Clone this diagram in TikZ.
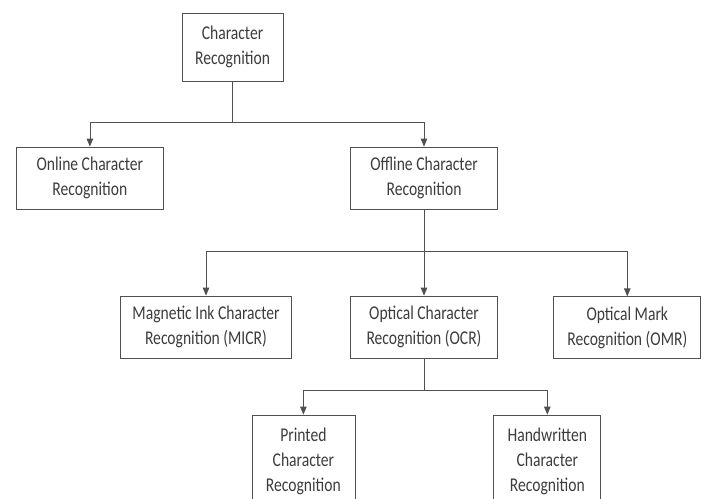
\documentclass[tikz,border=0pt]{standalone}
\usepackage{fontspec}
\usepackage{tikz}
\usetikzlibrary{arrows.meta}
\newfontfamily\boxfont[FakeStretch=0.8]{Carlito}
\definecolor{linegray}{HTML}{505050}
\definecolor{textgray}{HTML}{3C3C3C}

\begin{document}
\begin{tikzpicture}[x=1pt, y=-1pt, >={Triangle[length=8pt, width=6.5pt]}, block/.style = {draw=linegray, line width=0.8pt, text=textgray, align=center, inner sep=0pt, minimum width=147pt, minimum height=62pt, font=\boxfont\fontsize{19.5}{25}\selectfont}, link/.style = {draw=linegray, line width=0.8pt}]
    \useasboundingbox (0,0) rectangle (708,498);
    \clip (0,0) rectangle (708,498);
    \node[block, minimum width=101pt, minimum height=68pt] (1) at (232.5,47) {Character\\Recognition};
    \node[block] (2) at (89.9,178) {Online Character\\Recognition};
    \node[block] (3) at (424,178) {Offline Character\\Recognition};
    \node[block, minimum width=171pt] (4) at (206,327) {Magnetic Ink Character\\Recognition (MICR)};
    \node[block] (5) at (424,327) {Optical Character\\Recognition (OCR)};
    \node[block] (6) at (627.3,327.8) {Optical Mark\\Recognition (OMR)};
    \node[block, minimum width=103pt, minimum height=92pt] (7) at (303.4,461) {Printed\\Character\\Recognition};
    \node[block, minimum width=107pt, minimum height=92pt] (8) at (547.3,461) {Handwritten\\Character\\Recognition};
    % junctions
    \coordinate (j1) at (232.5,122.7);
    \coordinate (j2) at (424,251.7);
    \coordinate (j3) at (424,390);
    \draw[link] (1) -- (j1);
    \draw[link, ->] (j1) -| (2);
    \draw[link, ->] (j1) -| (3);
    \draw[link] (3) -- (j2);
    \draw[link, ->] (j2) -| (4);
    \draw[link, ->] (j2) -- (5);
    \draw[link, ->] (j2) -| (6);
    \draw[link] (5) -- (j3);
    \draw[link, ->] (j3) -| (7);
    \draw[link, ->] (j3) -| (8);
\end{tikzpicture}
\end{document}
